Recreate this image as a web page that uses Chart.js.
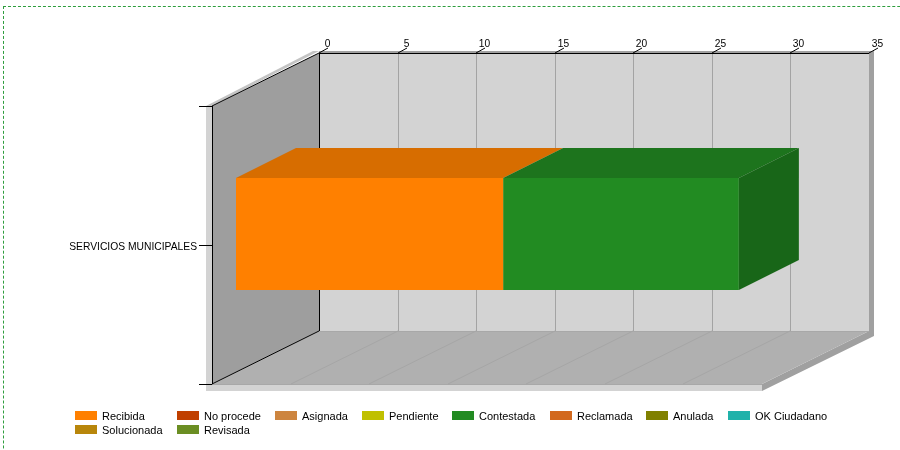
<!DOCTYPE html>
<html>
<head>
<meta charset="utf-8">
<script src="https://cdn.jsdelivr.net/npm/chart.js@4/dist/chart.umd.min.js"></script>
<style>
html, body { margin: 0; padding: 0; width: 900px; height: 450px; overflow: hidden; background: #fff; }
#frame { position: absolute; left: 3px; top: 6px; width: 1200px; height: 800px; border: 1px dashed #2e9e3e; }
#c { position: absolute; left: 0; top: 0; }
</style>
</head>
<body>
<div id="frame"></div>
<canvas id="c" width="900" height="450"></canvas>
<script>
var categories = ['SERVICIOS MUNICIPALES'];
var seriesNames = ['Recibida', 'No procede', 'Asignada', 'Pendiente', 'Contestada', 'Reclamada', 'Anulada', 'OK Ciudadano', 'Solucionada', 'Revisada'];
var seriesValues = [17, 0, 0, 0, 15, 0, 0, 0, 0, 0];
var seriesColors = ['#FF8000', '#C04000', '#CD853F', '#C0C000', '#228B22', '#D2691E', '#808000', '#20B2AA', '#B8860B', '#6B8E23'];
var topColors = {'#FF8000': '#D76D00', '#228B22': '#1D741D'};
var sideColors = {'#FF8000': '#BA5D00', '#228B22': '#186618'};

// fake 3d: how far the back plane sits from the front plane
var DEPTH_X = 107, DEPTH_Y = 53;
// bar front face offset and bar thickness
var BAR_X = 24, BAR_Y = -11, BAR_DX = 60, BAR_DY = -30;

function poly(ctx, pts, fill) {
  ctx.beginPath();
  ctx.moveTo(pts[0][0], pts[0][1]);
  for (var i = 1; i < pts.length; i++) ctx.lineTo(pts[i][0], pts[i][1]);
  ctx.closePath();
  ctx.fillStyle = fill;
  ctx.fill();
}

function line(ctx, x1, y1, x2, y2, color) {
  ctx.beginPath();
  ctx.moveTo(x1, y1);
  ctx.lineTo(x2, y2);
  ctx.strokeStyle = color;
  ctx.lineWidth = 1;
  ctx.stroke();
}

var walls = {
  id: 'walls',
  beforeDatasetsDraw: function (chart) {
    var ctx = chart.ctx, a = chart.chartArea, x = chart.scales.x, y = chart.scales.y;
    var l = a.left, r = a.right, t = a.top, b = a.bottom;
    var dx = DEPTH_X, dy = DEPTH_Y;
    ctx.save();
    // outer edge of the walls
    poly(ctx, [[l - 6, t], [l, t], [l, b], [r, b], [r, b + 7], [l - 6, b + 7]], '#D3D3D3');
    poly(ctx, [[l - 6, t], [l + dx - 6, t - dy - 2], [l + dx, t - dy - 2], [l, t]], '#C4C4C4');
    poly(ctx, [[l + dx, t - dy - 2], [r + dx + 5, t - dy - 2], [r + dx + 5, b - dy + 5], [r, b + 7], [r, b], [r + dx, b - dy], [r + dx, t - dy], [l + dx, t - dy]], '#A0A0A0');
    // back wall, side wall, floor
    poly(ctx, [[l + dx, t - dy], [r + dx, t - dy], [r + dx, b - dy], [l + dx, b - dy]], '#D3D3D3');
    poly(ctx, [[l, t], [l + dx, t - dy], [l + dx, b - dy], [l, b]], '#9E9E9E');
    poly(ctx, [[l, b], [l + dx, b - dy], [r + dx, b - dy], [r, b]], '#B0B0B0');
    line(ctx, l + dx, b - dy + 0.5, r + dx, b - dy + 0.5, '#A8A8A8');
    line(ctx, l, b + 0.5, r, b + 0.5, '#A8A8A8');
    // grid lines and value labels sit on the back plane
    ctx.font = '10.2px "Liberation Sans"';
    ctx.textAlign = 'center';
    ctx.textBaseline = 'alphabetic';
    x.ticks.forEach(function (tick) {
      var px = Math.round(x.getPixelForValue(tick.value));
      if (tick.value > 0 && tick.value < 35) {
        line(ctx, px + dx + 0.5, t - dy, px + dx + 0.5, b - dy, '#A3A3A3');
        line(ctx, px, b, px + dx, b - dy, '#A6A6A6');
      }
      line(ctx, px + dx, t - dy, px + dx + 9, t - dy - 5, '#000');
      ctx.fillStyle = '#000';
      ctx.fillText(String(tick.value), px + dx + 8.5, t - dy - 6);
    });
    // dark axis lines
    line(ctx, l + 0.5, t, l + 0.5, b, '#000');
    line(ctx, l + dx + 0.5, t - dy, l + dx + 0.5, b - dy, '#000');
    line(ctx, l + dx, t - dy + 0.5, r + dx, t - dy + 0.5, '#000');
    line(ctx, l, t, l + dx, t - dy, '#000');
    line(ctx, l, b, l + dx, b - dy, '#000');
    // category axis ticks and label
    var mid = Math.round(y.getPixelForValue(0));
    [t, mid, b].forEach(function (py) {
      line(ctx, l - 13, py + 0.5, l, py + 0.5, '#000');
    });
    ctx.textAlign = 'right';
    ctx.font = '10.3px "Liberation Sans"';
    ctx.fillText(y.getLabelForValue(0), l - 15, mid + 5);
    ctx.restore();
  },
  beforeDatasetDraw: function (chart) {
    chart.ctx.save();
    chart.ctx.translate(BAR_X, BAR_Y);
  },
  afterDatasetDraw: function (chart) {
    chart.ctx.restore();
  },
  afterDatasetsDraw: function (chart) {
    var ctx = chart.ctx, last = null;
    chart.data.datasets.forEach(function (ds, i) {
      if (!ds.data[0]) return;
      var bar = chart.getDatasetMeta(i).data[0];
      var x0 = bar.base + BAR_X, x1 = bar.x + BAR_X;
      var y0 = bar.y - bar.height / 2 + BAR_Y;
      poly(ctx, [[x0, y0], [x0 + BAR_DX, y0 + BAR_DY], [x1 + BAR_DX, y0 + BAR_DY], [x1, y0]], topColors[ds.backgroundColor]);
      last = {x: x1, y: y0, h: bar.height, color: sideColors[ds.backgroundColor]};
    });
    if (last) {
      poly(ctx, [[last.x, last.y], [last.x + BAR_DX, last.y + BAR_DY], [last.x + BAR_DX, last.y + last.h + BAR_DY], [last.x, last.y + last.h]], last.color);
    }
  }
};

// legend keeps columns like the original, so it can't use the built-in one
var gridLegend = {
  id: 'gridLegend',
  afterDraw: function (chart) {
    var ctx = chart.ctx, perRow = 8, widths = [];
    var items = chart.data.datasets;
    ctx.save();
    ctx.font = '11px "Liberation Sans"';
    ctx.textBaseline = 'alphabetic';
    items.forEach(function (ds, i) {
      var col = i % perRow;
      widths[col] = Math.max(widths[col] || 0, ctx.measureText(ds.label).width);
    });
    items.forEach(function (ds, i) {
      var col = i % perRow, row = Math.floor(i / perRow), x = 75;
      for (var c = 0; c < col; c++) x += widths[c] + 41.1;
      var y = 411 + row * 14;
      ctx.fillStyle = ds.backgroundColor;
      ctx.fillRect(Math.round(x), y, 22, 9);
      ctx.fillStyle = '#000';
      ctx.fillText(ds.label, Math.round(x) + 27, y + 9);
    });
    ctx.restore();
  }
};

var datasets = seriesNames.map(function (name, i) {
  return {
    label: name,
    data: [seriesValues[i]],
    backgroundColor: seriesColors[i],
    borderWidth: 0,
    clip: false
  };
});

new Chart(document.getElementById('c').getContext('2d'), {
  type: 'bar',
  data: { labels: categories, datasets: datasets },
  plugins: [walls, gridLegend],
  options: {
    responsive: false,
    animation: false,
    indexAxis: 'y',
    categoryPercentage: 1,
    barPercentage: 0.403,
    layout: { padding: { left: 0, right: 138, top: 106, bottom: 66 } },
    plugins: { legend: { display: false }, title: { display: false }, tooltip: { enabled: false } },
    scales: {
      x: {
        display: false,
        stacked: true,
        min: 0,
        max: 35,
        ticks: { stepSize: 5 }
      },
      y: {
        stacked: true,
        afterFit: function (scale) { scale.width = 212; },
        border: { display: false },
        grid: { display: false, drawTicks: false },
        ticks: { display: false }
      }
    }
  }
});
</script>
</body>
</html>
